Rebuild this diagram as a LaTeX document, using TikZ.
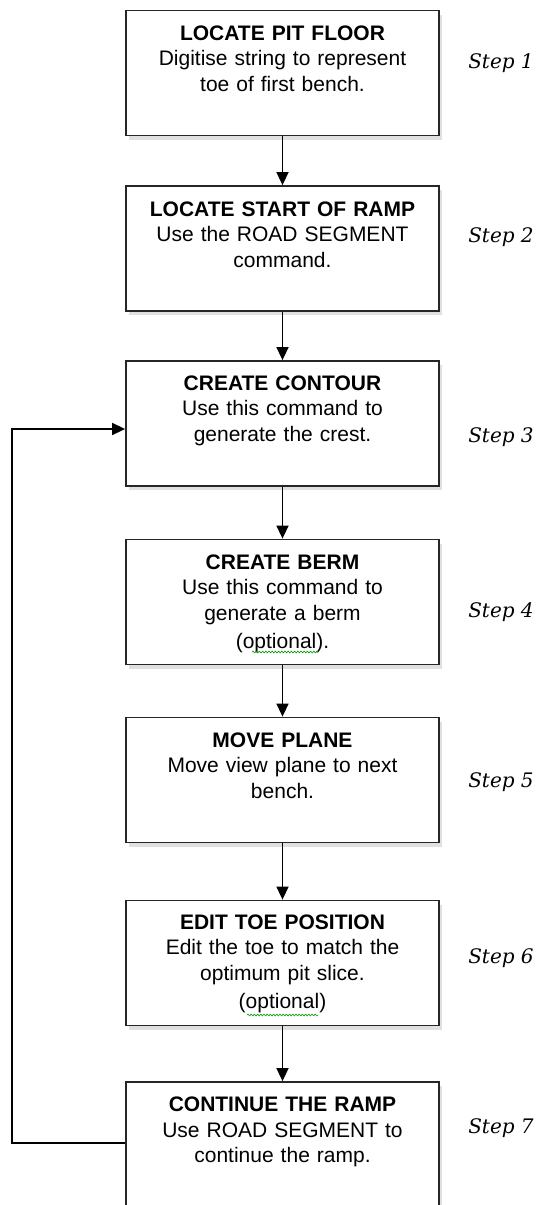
\documentclass[tikz,border=0pt]{standalone}
\usepackage{fontspec}
\setmainfont{Liberation Sans}
\newfontfamily\stepfont{DejaVu Serif}
\usetikzlibrary{arrows.meta,shadows,decorations.pathmorphing}
\tikzset{
  stepbox/.style={draw=black!85, line width=1.8pt, fill=white, minimum width=313pt,
    minimum height=125pt, inner sep=0pt,
    drop shadow={shadow xshift=3pt, shadow yshift=-4pt, opacity=0.12, fill=black}},
  boxtext/.style={anchor=north, inner sep=0pt, text width=300pt, align=center,
    font=\fontsize{21pt}{25.5pt}\selectfont},
  steplabel/.style={anchor=base, inner sep=0pt, font=\stepfont\itshape\fontsize{20pt}{24pt}\selectfont},
  arr/.style={line width=1.5pt, -{Triangle[width=12pt,length=13pt]}},
  squiggle/.style={draw=green!60!black, line width=0.6pt, decorate,
    decoration={snake, amplitude=0.9pt, segment length=3.2pt}}
}
\begin{document}
\begin{tikzpicture}[x=1pt,y=-1pt]
\useasboundingbox (0,0) rectangle (541,1205);
\fill[white] (0,0) rectangle (541,1205);

\node[stepbox] (b1) at (282.5,73) {};
\node[stepbox] (b2) at (282.5,248.5) {};
\node[stepbox] (b3) at (282.5,423.5) {};
\node[stepbox] (b4) at (282.5,602) {};
\node[stepbox] (b5) at (282.5,780) {};
\node[stepbox] (b6) at (282.5,963) {};
\node[stepbox, minimum height=135pt] (b7) at (282.5,1149.5) {};

\node[boxtext] (t1) at (282.5,25.5) {\textbf{LOCATE PIT FLOOR}\\Digitise string to represent\\toe of first bench.};
\node[boxtext] (t2) at (282.5,201.5) {\textbf{LOCATE START OF RAMP}\\Use the ROAD SEGMENT\\command.};
\node[boxtext] (t3) at (282.5,375.5) {\textbf{CREATE CONTOUR}\\Use this command to\\generate the crest.};
\node[boxtext] (t4) at (282.5,554.5) {\textbf{CREATE BERM}\\Use this command to\\generate a berm\\[3pt](optional).};
\node[boxtext] (t5) at (282.5,732.5) {\textbf{MOVE PLANE}\\Move view plane to next\\bench.};
\node[boxtext] (t6) at (282.5,914.5) {\textbf{EDIT TOE POSITION}\\Edit the toe to match the\\optimum pit slice.\\[3pt](optional)};
\node[boxtext] (t7) at (282.5,1097) {\textbf{CONTINUE THE RAMP}\\Use ROAD SEGMENT to\\continue the ramp.};

\draw[squiggle] (252,652) -- (318,652);
\draw[squiggle] (247,1015) -- (318,1015);

\node[steplabel] (s1) at (501,68) {Step 1};
\node[steplabel] (s2) at (501,242) {Step 2};
\node[steplabel] (s3) at (501,442) {Step 3};
\node[steplabel] (s4) at (501,617) {Step 4};
\node[steplabel] (s5) at (501,787) {Step 5};
\node[steplabel] (s6) at (501,963) {Step 6};
\node[steplabel] (s7) at (501,1133) {Step 7};

\draw[arr] (b1.south) -- (b2.north);
\draw[arr] (b2.south) -- (b3.north);
\draw[arr] (b3.south) -- (b4.north);
\draw[arr] (b4.south) -- (b5.north);
\draw[arr] (b5.south) -- (b6.north);
\draw[arr] (b6.south) -- (b7.north);

\coordinate (fbl) at (12,1143);
\coordinate (fbu) at (12,429);
\draw[arr] (b7.west |- fbl) -- (fbl) -- (fbu) -- (b3.west |- fbu);
\end{tikzpicture}
\end{document}
